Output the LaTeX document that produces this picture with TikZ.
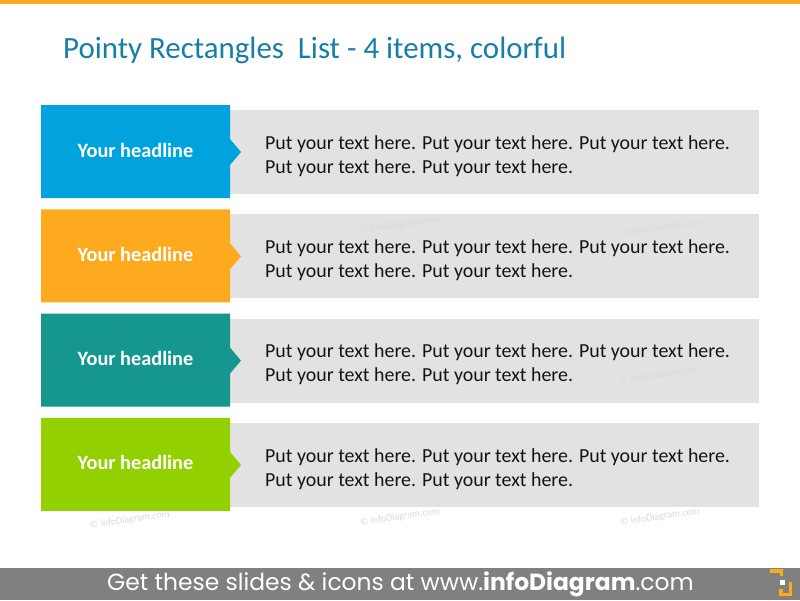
\documentclass[tikz,border=0pt]{standalone}
\usepackage{fontspec}
\setmainfont{Carlito}
\newfontfamily\barfont{Poppins}
\definecolor{cblue}{RGB}{0,163,222}
\definecolor{corange}{RGB}{253,170,30}
\definecolor{cteal}{RGB}{21,150,143}
\definecolor{cgreen}{RGB}{146,208,0}
\definecolor{cgray}{RGB}{226,226,226}
\definecolor{ctitle}{RGB}{22,127,168}
\definecolor{cbar}{RGB}{128,128,128}
\definecolor{ctext}{RGB}{20,20,20}
\definecolor{cwm}{RGB}{218,218,218}
\begin{document}
\begin{tikzpicture}[x=1pt,y=-1pt,
  head/.style={font=\fontsize{20.3}{22}\selectfont\bfseries,text=white,anchor=center},
  body/.style={font=\fontsize{19.9}{24}\selectfont,text=ctext,anchor=west,align=left},
  wm/.style={font=\fontsize{10}{12}\selectfont,text=cwm,rotate=8,anchor=center}]
\useasboundingbox (0,0) rectangle (800,600);
\fill[white] (0,0) rectangle (800,600);
\fill[corange] (0,0) rectangle (800,3.5);
\node[anchor=base west,inner sep=0,text=ctitle,font=\fontsize{30.9}{32}\selectfont] (title) at (63,58) {Pointy Rectangles\ \ List - 4 items, colorful};
% rows
\foreach \i/\c in {0/cblue,1/corange,2/cteal,3/cgreen}{
  \pgfmathsetmacro{\t}{105+104.3*\i}
  \fill[cgray] (230,\t+5) rectangle (759,\t+89);
  \fill[\c] (41,\t) rectangle (230,\t+93) -- (230,\t+34) -- (241,\t+47) -- (230,\t+60) -- cycle;
  \node[head] (h\i) at (135.5,\t+45) {Your headline};
  \node[body,inner sep=0] (b\i) at (265,\t+51) {Put your text here. Put your text here. Put your text here.\\Put your text here. Put your text here.};
}
% watermarks
\node[wm] (w1) at (130,520) {\textcopyright\ infoDiagram.com};
\node[wm] (w2) at (400,517) {\textcopyright\ infoDiagram.com};
\node[wm] (w3) at (660,517) {\textcopyright\ infoDiagram.com};
\node[wm] (w4) at (662,228) {\textcopyright\ infoDiagram.com};
\node[wm] (w5) at (660,375) {\textcopyright\ infoDiagram.com};
\node[wm] (w6) at (400,225) {\textcopyright\ infoDiagram.com};
% bottom bar
\fill[cbar] (0,568) rectangle (800,600);
\node[text=white,font=\barfont\fontsize{23.4}{24}\selectfont,anchor=center,inner sep=0] (bar) at (400.5,584) {Get these slides \& icons at www.\textbf{infoDiagram}.com};
% logo
\fill[corange] (770,569) rectangle (783,572.5);
\fill[corange] (779.5,569) rectangle (783,576);
\fill[corange] (779,592.5) rectangle (792,596);
\fill[corange] (779,589) rectangle (782.5,596);
\fill[corange] (788.5,582) rectangle (792,596);
\fill[white] (780,580) rectangle (785,585);
\end{tikzpicture}
\end{document}
